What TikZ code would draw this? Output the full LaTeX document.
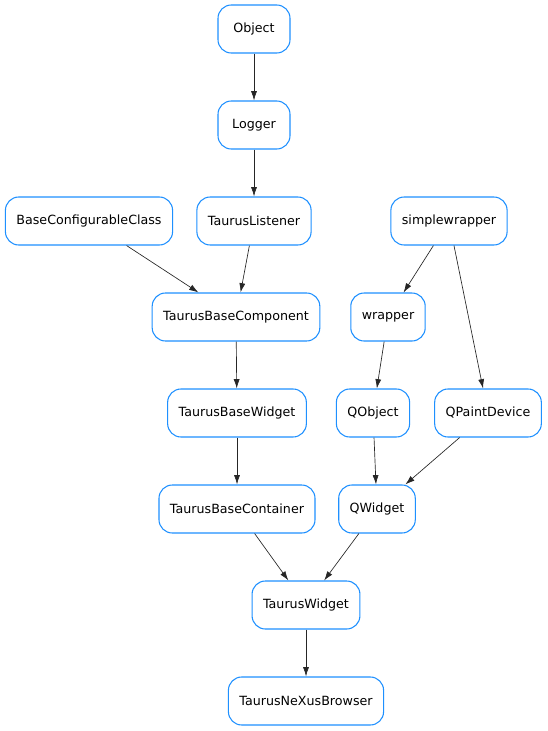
\documentclass[tikz,border=0pt]{standalone}
\usepackage{fontspec}
\setmainfont{DejaVu Sans}
\usepackage{xcolor}
\usepackage{tikz}
\usetikzlibrary{arrows}
\usetikzlibrary{arrows.meta}
\usetikzlibrary{shapes}
\definecolor{nodeblue}{RGB}{30,144,255}
\tikzset{>={Latex[length=7pt, width=4.5pt]}}
\tikzstyle{cls} = [rectangle, rounded corners = 10pt, draw = nodeblue, line width = 0.8pt, fill = white, minimum height = 36pt, minimum width = 54pt, inner xsep = 8.25pt, font = \fontsize{9.5pt}{11pt}\selectfont]
\tikzstyle{inh} = [->, draw = black!85, line width = 0.5pt]

\begin{document}
\begin{tikzpicture}[x = 0.75pt, y = -0.75pt]
\useasboundingbox (0, 0) rectangle (547, 731);
\node [cls] (Object) at (254, 29) {Object};
\node [cls] (Logger) at (254, 125) {Logger};
\node [cls] (BCC) at (89, 221) {BaseConfigurableClass};
\node [cls] (TL) at (254, 221) {TaurusListener};
\node [cls] (SW) at (449, 221) {simplewrapper};
\node [cls] (TBComp) at (236, 317) {TaurusBaseComponent};
\node [cls] (W) at (388, 317) {wrapper};
\node [cls] (TBW) at (237, 413) {TaurusBaseWidget};
\node [cls] (QO) at (373, 413) {QObject};
\node [cls] (QPD) at (488, 413) {QPaintDevice};
\node [cls] (TBCont) at (237, 509) {TaurusBaseContainer};
\node [cls] (QW) at (377, 509) {QWidget};
\node [cls] (TW) at (306, 605) {TaurusWidget};
\node [cls] (TNB) at (306, 701) {TaurusNeXusBrowser};
\draw [inh] (Object) to (Logger);
\draw [inh] (Logger) to (TL);
\draw [inh] (BCC) to (TBComp);
\draw [inh] (TL) to (TBComp);
\draw [inh] (SW) to (W);
\draw [inh] (SW) to (QPD);
\draw [inh] (TBComp) to (TBW);
\draw [inh] (W) to (QO);
\draw [inh] (TBW) to (TBCont);
\draw [inh] (QO) to (QW);
\draw [inh] (QPD) to (QW);
\draw [inh] (TBCont) to (TW);
\draw [inh] (QW) to (TW);
\draw [inh] (TW) to (TNB);
\end{tikzpicture}
\end{document}
